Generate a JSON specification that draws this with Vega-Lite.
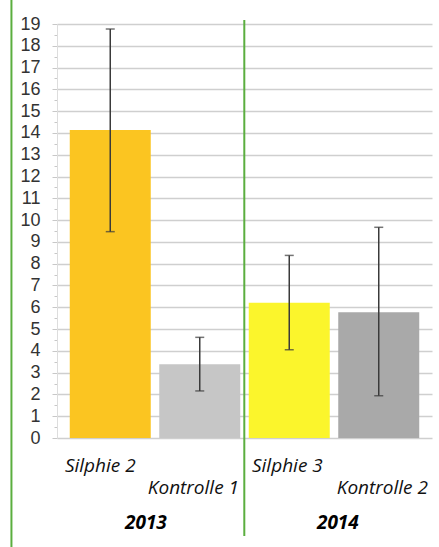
{
  "$schema": "https://vega.github.io/schema/vega-lite/v6.json",
  "width": 375,
  "height": 414,
  "autosize": "none",
  "padding": {"left": 57, "top": 24, "right": 7, "bottom": 109},
  "background": "white",
  "config": {"view": {"stroke": null}},
  "resolve": {"axis": {"y": "independent"}},
  "data": {"values": [
    {"cat": "Silphie 2", "year": "2013", "value": 14.13, "lo": 9.47, "hi": 18.77},
    {"cat": "Kontrolle 1", "year": "2013", "value": 3.38, "lo": 2.16, "hi": 4.62},
    {"cat": "Silphie 3", "year": "2014", "value": 6.21, "lo": 4.05, "hi": 8.38},
    {"cat": "Kontrolle 2", "year": "2014", "value": 5.77, "lo": 1.94, "hi": 9.67}
  ]},
  "encoding": {
    "x": {
      "field": "cat", "type": "nominal", "sort": null,
      "scale": {"domain": ["Silphie 2", "Kontrolle 1", "Silphie 3", "Kontrolle 2"], "paddingInner": 0.095, "paddingOuter": 0.1425},
      "axis": null
    }
  },
  "layer": [
    {
      "mark": {"type": "bar"},
      "encoding": {
        "y": {
          "field": "value", "type": "quantitative",
          "scale": {"domain": [0, 19], "nice": false, "zero": true},
          "axis": {
            "title": null,
            "orient": "left",
            "format": ".0f",
            "values": [0,0.5,1,1.5,2,2.5,3,3.5,4,4.5,5,5.5,6,6.5,7,7.5,8,8.5,9,9.5,10,10.5,11,11.5,12,12.5,13,13.5,14,14.5,15,15.5,16,16.5,17,17.5,18,18.5,19],
            "grid": true,
            "gridColor": "#cfcfcf",
            "gridWidth": 1.5,
            "gridOpacity": {"condition": {"test": "datum.value % 1 !== 0", "value": 0}, "value": 1},
            "labelExpr": "datum.value % 1 === 0 ? datum.label : ''",
            "labelOverlap": false,
            "labelBound": false,
            "labelFont": "Liberation Sans",
            "labelFontSize": 18,
            "labelColor": "#333333",
            "labelPadding": 12,
            "tickColor": "#c8c8c8",
            "tickSize": {"condition": {"test": "datum.value % 1 !== 0", "value": 3}, "value": 5},
            "domainColor": "#dddddd",
            "domainWidth": 1
          }
        },
        "color": {
          "field": "cat", "type": "nominal",
          "scale": {"domain": ["Silphie 2", "Kontrolle 1", "Silphie 3", "Kontrolle 2"], "range": ["#fbc521", "#c6c6c6", "#fbf52c", "#a9a9a9"]},
          "legend": null
        }
      }
    },
    {
      "mark": {"type": "rule", "color": "#3a3a3a", "strokeWidth": 1.5},
      "encoding": {
        "y": {"field": "lo", "type": "quantitative", "axis": null},
        "y2": {"field": "hi"}
      }
    },
    {
      "mark": {"type": "tick", "color": "#3a3a3a", "size": 9, "thickness": 1.5},
      "encoding": {"y": {"field": "lo", "type": "quantitative", "axis": null}}
    },
    {
      "mark": {"type": "tick", "color": "#3a3a3a", "size": 9, "thickness": 1.5},
      "encoding": {"y": {"field": "hi", "type": "quantitative", "axis": null}}
    },
    {
      "data": {"values": [{}]},
      "mark": {"type": "rule", "color": "#5bae3f", "strokeWidth": 2},
      "encoding": {
        "x": {"datum": "Kontrolle 1", "bandPosition": 1.05},
        "y": {"datum": 19.18, "axis": null},
        "y2": {"datum": -4.5}
      }
    },
    {
      "data": {"values": [{}]},
      "mark": {"type": "rule", "color": "#5bae3f", "strokeWidth": 2},
      "encoding": {
        "x": {"datum": "Silphie 2", "bandPosition": -0.72},
        "y": {"datum": 20.5, "axis": null},
        "y2": {"datum": -5.5}
      }
    },
    {
      "data": {"values": [{}]},
      "mark": {"type": "text", "text": "Silphie 2", "align": "left", "baseline": "middle", "font": "Open Sans", "fontStyle": "italic", "fontSize": 19, "color": "#111111"},
      "encoding": {"x": {"datum": "Silphie 2", "bandPosition": -0.06}, "y": {"datum": -1.29, "axis": null}}
    },
    {
      "data": {"values": [{}]},
      "mark": {"type": "text", "text": "Silphie 3", "align": "left", "baseline": "middle", "font": "Open Sans", "fontStyle": "italic", "fontSize": 19, "color": "#111111"},
      "encoding": {"x": {"datum": "Silphie 3", "bandPosition": 0.04}, "y": {"datum": -1.29, "axis": null}}
    },
    {
      "data": {"values": [{}]},
      "mark": {"type": "text", "text": "Kontrolle 1", "align": "right", "baseline": "middle", "font": "Open Sans", "fontStyle": "italic", "fontSize": 19, "color": "#111111"},
      "encoding": {"x": {"datum": "Kontrolle 1", "bandPosition": 0.985}, "y": {"datum": -2.29, "axis": null}}
    },
    {
      "data": {"values": [{}]},
      "mark": {"type": "text", "text": "Kontrolle 2", "align": "right", "baseline": "middle", "font": "Open Sans", "fontStyle": "italic", "fontSize": 19, "color": "#111111"},
      "encoding": {"x": {"datum": "Kontrolle 2", "bandPosition": 1.108}, "y": {"datum": -2.29, "axis": null}}
    },
    {
      "data": {"values": [{}]},
      "mark": {"type": "text", "text": "2013", "align": "center", "baseline": "middle", "font": "Open Sans", "fontStyle": "italic", "fontWeight": "bold", "fontSize": 19, "color": "#000000"},
      "encoding": {"x": {"datum": "Silphie 2", "bandPosition": 0.94}, "y": {"datum": -3.92, "axis": null}}
    },
    {
      "data": {"values": [{}]},
      "mark": {"type": "text", "text": "2014", "align": "center", "baseline": "middle", "font": "Open Sans", "fontStyle": "italic", "fontWeight": "bold", "fontSize": 19, "color": "#000000"},
      "encoding": {"x": {"datum": "Silphie 3", "bandPosition": 1.10}, "y": {"datum": -3.92, "axis": null}}
    }
  ]
}
